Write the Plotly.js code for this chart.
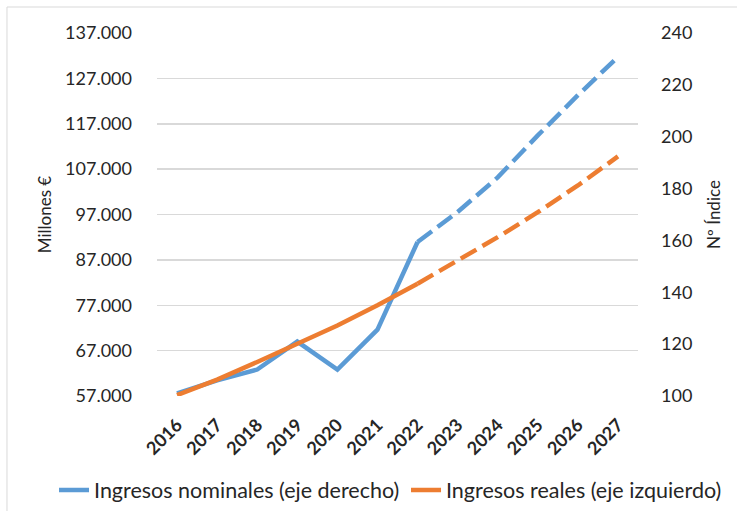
<!DOCTYPE html>
<html>
<head>
<meta charset="utf-8">
<script src="https://cdn.plot.ly/plotly-3.0.1.min.js"></script>
<style>
  html, body { margin: 0; padding: 0; background: #fff; }
  #chart { width: 737px; height: 511px; }
</style>
</head>
<body>
<div id="chart"></div>
<script>
const years = ['2016','2017','2018','2019','2020','2021','2022','2023','2024','2025','2026','2027'];
const nominalIndex = [101, 106, 110.2, 121, 110.2, 125.6, 159.4, 171, 184.3, 200.5, 216, 230.8];
const realMillions = [57200, 60600, 64500, 68400, 72550, 77000, 81750, 86900, 92000, 97500, 103400, 109800];
const splitAt = 6; // 2022: last observed year, then projections (dashed)

const blue = '#5B9BD5';
const orange = '#ED7D31';
const txt = '#262626';
const font = 'Lato, "Open Sans", sans-serif';
const dashPat = '18px,7px';

const traces = [
  {
    x: years.slice(0, splitAt + 1), y: nominalIndex.slice(0, splitAt + 1),
    name: 'Ingresos nominales (eje derecho)', legendgroup: 'nom', legend: 'legend',
    type: 'scatter', mode: 'lines', yaxis: 'y',
    line: { color: blue, width: 4.5 }
  },
  {
    x: years.slice(splitAt), y: nominalIndex.slice(splitAt),
    name: 'Ingresos nominales (eje derecho)', legendgroup: 'nom', showlegend: false,
    type: 'scatter', mode: 'lines', yaxis: 'y',
    line: { color: blue, width: 4.5, dash: dashPat }
  },
  {
    x: years.slice(0, splitAt + 1), y: realMillions.slice(0, splitAt + 1),
    name: 'Ingresos reales (eje izquierdo)', legendgroup: 'real', legend: 'legend2',
    type: 'scatter', mode: 'lines', yaxis: 'y2',
    line: { color: orange, width: 4.5 }
  },
  {
    x: years.slice(splitAt), y: realMillions.slice(splitAt),
    name: 'Ingresos reales (eje izquierdo)', legendgroup: 'real', showlegend: false,
    type: 'scatter', mode: 'lines', yaxis: 'y2',
    line: { color: orange, width: 4.5, dash: dashPat }
  }
];

const legendFont = { family: font, size: 21.5, color: txt };

const layout = {
  width: 737, height: 511,
  margin: { l: 157, r: 99, t: 33, b: 115, pad: 0, autoexpand: false },
  paper_bgcolor: '#fff', plot_bgcolor: '#fff',
  separators: ',.',
  font: { family: font, color: txt, size: 18 },
  showlegend: true,
  hovermode: false,
  xaxis: {
    type: 'category', range: [-0.5, 11.5],
    showgrid: false, showline: false, zeroline: false, ticks: '',
    tickangle: -45, ticklabelstandoff: 14,
    tickfont: { family: font, size: 18, color: txt, weight: 'bold' }
  },
  yaxis: {
    side: 'right', range: [100, 240], dtick: 20, tick0: 100,
    showgrid: false, zeroline: false, showline: false, ticks: '',
    ticklabelstandoff: 22,
    tickfont: { family: font, size: 18, color: txt },
    title: { text: 'Nº Índice', font: { family: font, size: 17, color: txt }, standoff: 16 }
  },
  yaxis2: {
    side: 'left', overlaying: 'y', anchor: 'x',
    range: [57000, 137000], dtick: 10000, tick0: 57000,
    tickformat: ',d',
    showgrid: true, gridcolor: '#D9D9D9', gridwidth: 1.5,
    zeroline: false, showline: false, ticks: '',
    ticklabelstandoff: 24,
    tickfont: { family: font, size: 18, color: txt },
    title: { text: 'Millones €', font: { family: font, size: 17, color: txt }, standoff: 9 }
  },
  legend: {
    orientation: 'h', x: -0.2141, xanchor: 'left', y: -0.259, yanchor: 'middle',
    font: legendFont, bgcolor: 'rgba(0,0,0,0)', itemwidth: 30
  },
  legend2: {
    orientation: 'h', x: 0.5177, xanchor: 'left', y: -0.259, yanchor: 'middle',
    font: legendFont, bgcolor: 'rgba(0,0,0,0)', itemwidth: 30
  },
  shapes: [
    { type: 'line', xref: 'paper', yref: 'paper', x0: -0.3119, x1: 1.21, y0: 1.0716, y1: 1.0716,
      line: { color: '#D9D9D9', width: 1 } },
    { type: 'line', xref: 'paper', yref: 'paper', x0: -0.3119, x1: -0.3119, y0: -0.32, y1: 1.0716,
      line: { color: '#D9D9D9', width: 1 } }
  ]
};

Plotly.newPlot('chart', traces, layout, { displayModeBar: false, staticPlot: true });
</script>
</body>
</html>
